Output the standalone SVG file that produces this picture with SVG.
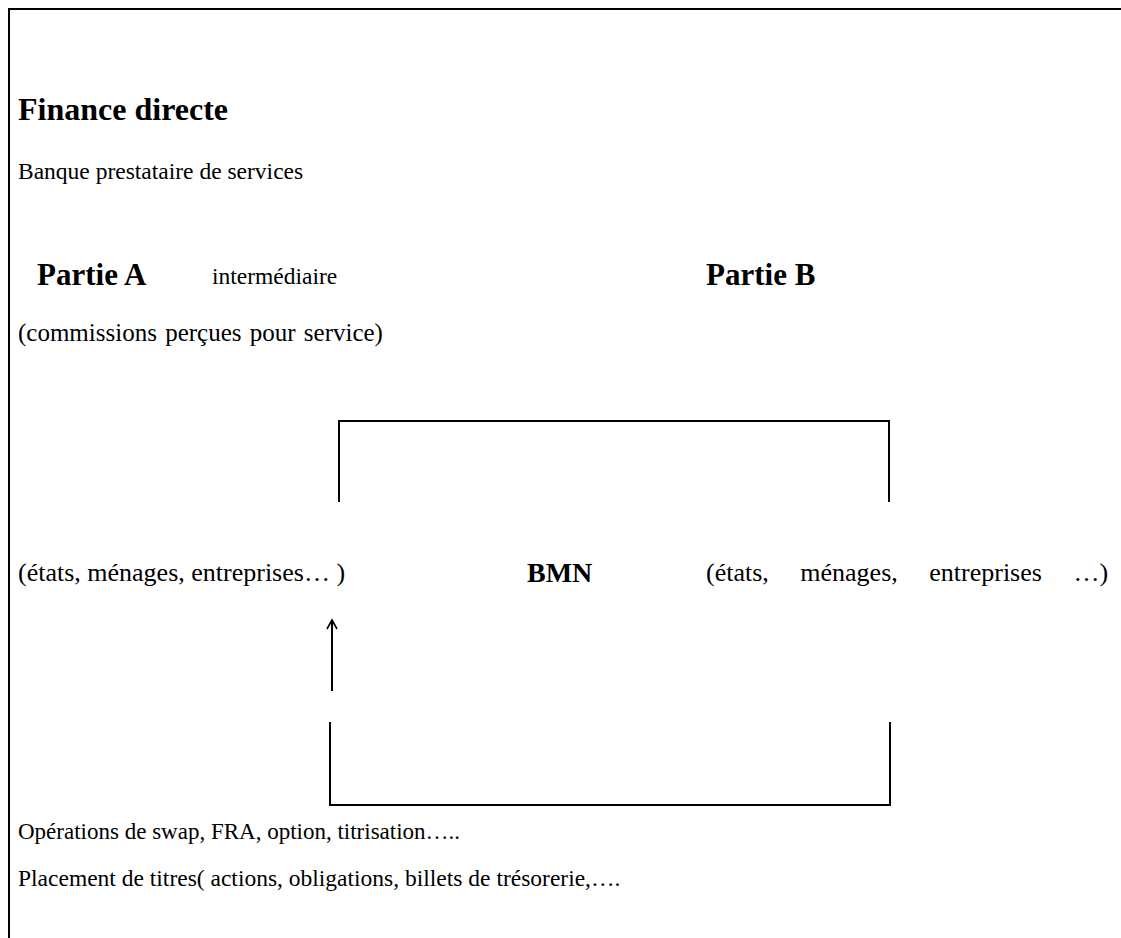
<svg xmlns="http://www.w3.org/2000/svg" width="1121" height="938" viewBox="0 0 1121 938">
<style>
text{font-family:"Liberation Serif","Times New Roman",serif;font-size:23.5px;fill:#000}
.b{font-weight:bold;font-size:31px}
.e{font-size:26px}
.ln{fill:none;stroke:#000;stroke-width:2}
</style>
<defs>
<marker id="ah" markerWidth="14" markerHeight="14" refX="11" refY="7" orient="auto" markerUnits="userSpaceOnUse" viewBox="0 0 14 14">
<path d="M2,2 L11,7 L2,12" fill="none" stroke="#000" stroke-width="1.6"/>
</marker>
</defs>
<rect width="1121" height="938" fill="#fff"/>
<path class="ln" d="M9,938 V9 H1121"/>
<g id="title"><text class="b" x="18" y="120" style="font-size:32px">Finance directe</text></g>
<g id="subtitle"><text x="18" y="179">Banque prestataire de services</text></g>
<g id="partieA"><text class="b" x="37" y="285">Partie A</text></g>
<g id="intermediaire"><text x="212" y="284">intermédiaire</text></g>
<g id="partieB"><text class="b" x="706" y="285">Partie B</text></g>
<g id="commissions"><text x="18" y="341" style="font-size:25px" word-spacing="2">(commissions perçues pour service)</text></g>
<g id="gauche"><text class="e" x="18" y="581">(états, ménages, entreprises… )</text></g>
<g id="bmn"><text class="b" x="527" y="582" style="font-size:28px">BMN</text></g>
<g id="droite"><text class="e" x="706" y="581" word-spacing="25">(états, ménages, entreprises …)</text></g>
<g id="connectors">
<path class="ln" d="M339,502 V421 H889 V502"/>
<path class="ln" d="M330,722 V805 H890 V722"/>
<line x1="332" y1="691" x2="332" y2="620" stroke="#000" stroke-width="2" marker-end="url(#ah)"/>
</g>
<g id="operations"><text x="18" y="839" style="font-size:23px">Opérations de swap, FRA, option, titrisation…..</text></g>
<g id="placement"><text x="18" y="886">Placement de titres( actions, obligations, billets de trésorerie,….</text></g>
</svg>
